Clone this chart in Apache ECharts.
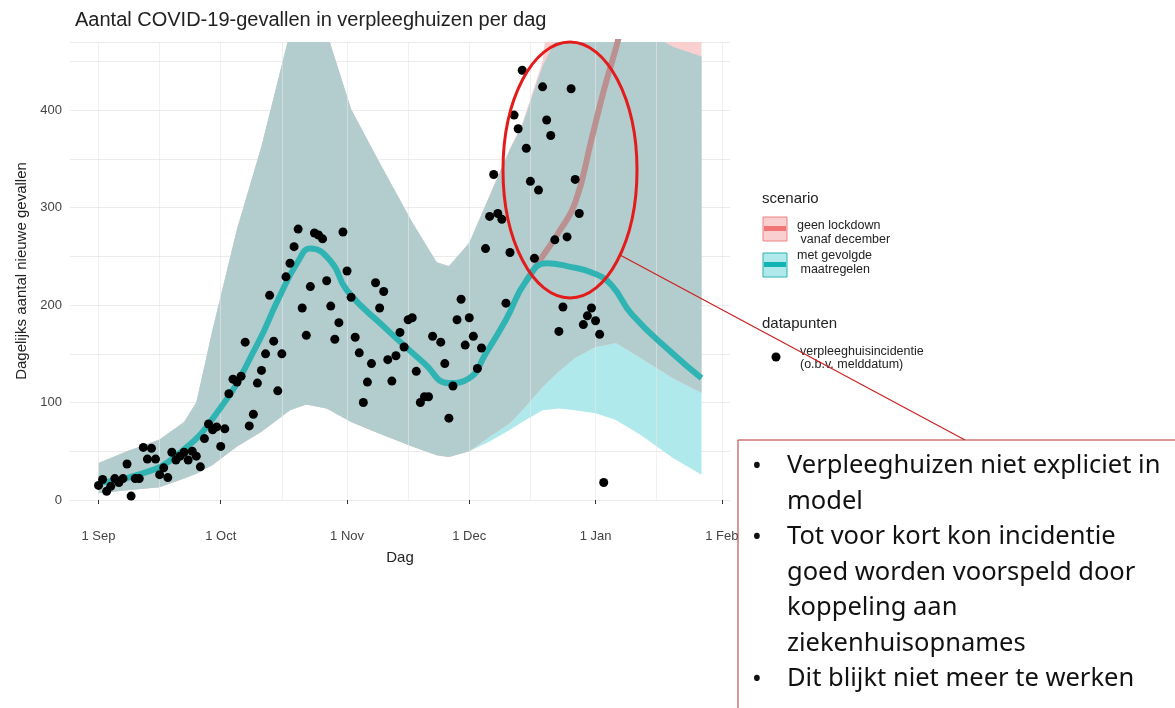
<!DOCTYPE html>
<html><head><meta charset="utf-8">
<script src="https://cdn.jsdelivr.net/npm/echarts@6/dist/echarts.min.js"></script>
<style>html,body{margin:0;padding:0;background:#fff}#c{width:1175px;height:708px}</style>
</head><body><div id="c"></div>
<script>
// daily nursing-home cases (o.b.v. melddatum)
const pointDates = [
  '2020-09-01','2020-09-02','2020-09-03','2020-09-04','2020-09-05','2020-09-06','2020-09-07','2020-09-08','2020-09-09','2020-09-10',
  '2020-09-11','2020-09-12','2020-09-13','2020-09-14','2020-09-15','2020-09-16','2020-09-17','2020-09-18','2020-09-19','2020-09-20',
  '2020-09-21','2020-09-22','2020-09-23','2020-09-24','2020-09-25','2020-09-26','2020-09-27','2020-09-28','2020-09-29','2020-09-30',
  '2020-10-01','2020-10-02','2020-10-03','2020-10-04','2020-10-05','2020-10-06','2020-10-07','2020-10-08','2020-10-09','2020-10-10',
  '2020-10-11','2020-10-12','2020-10-13','2020-10-14','2020-10-15','2020-10-16','2020-10-17','2020-10-18','2020-10-19','2020-10-20',
  '2020-10-21','2020-10-22','2020-10-23','2020-10-24','2020-10-25','2020-10-26','2020-10-27','2020-10-28','2020-10-29','2020-10-30',
  '2020-10-31','2020-11-01','2020-11-02','2020-11-03','2020-11-04','2020-11-05','2020-11-06','2020-11-07','2020-11-08','2020-11-09',
  '2020-11-10','2020-11-11','2020-11-12','2020-11-13','2020-11-14','2020-11-15','2020-11-16','2020-11-17','2020-11-18','2020-11-19',
  '2020-11-20','2020-11-21','2020-11-22','2020-11-24','2020-11-25','2020-11-26','2020-11-27','2020-11-28','2020-11-29','2020-11-30',
  '2020-12-01','2020-12-02','2020-12-03','2020-12-04','2020-12-05','2020-12-06','2020-12-07','2020-12-08','2020-12-09','2020-12-10',
  '2020-12-11','2020-12-12','2020-12-13','2020-12-14','2020-12-15','2020-12-16','2020-12-17','2020-12-18','2020-12-19','2020-12-20',
  '2020-12-21','2020-12-22','2020-12-23','2020-12-24','2020-12-25','2020-12-26','2020-12-27','2020-12-28','2020-12-29','2020-12-30',
  '2020-12-31','2021-01-01','2021-01-02','2021-01-03'
];
const pointValues = [
  15,21,9,14,22,18,22,37,4,22,
  22,54,42,53,42,26,33,23,49,41,
  45,49,41,50,45,34,63,78,72,75,
  55,73,109,124,121,127,162,76,88,120,
  133,150,210,163,112,150,229,243,260,278,
  197,169,219,274,272,268,225,199,165,182,
  275,235,208,167,151,100,121,140,223,197,
  214,144,122,148,172,157,185,187,132,100,
  106,106,168,162,140,84,117,185,206,159,
  187,168,135,156,258,291,334,294,288,202,
  254,395,381,441,361,327,248,318,424,390,
  374,267,173,198,270,422,329,294,180,189,
  197,184,170,18
];

// model ribbons
const bandDates = [
  '2020-09-01','2020-09-08','2020-09-16','2020-09-22','2020-09-25','2020-09-29','2020-10-05','2020-10-11','2020-10-18','2020-10-22',
  '2020-10-27','2020-11-02','2020-11-09','2020-11-17','2020-11-23','2020-11-26','2020-12-01','2020-12-06','2020-12-11','2020-12-14',
  '2020-12-19','2020-12-23','2020-12-27','2021-01-01','2021-01-06','2021-01-12','2021-01-20','2021-01-27'
];
const metLow  = [7,10,13,22,27,36,55,70,92,98, 94,80,68,55,46,44,50,60,72,80, 92,94,92,89,82,67,43,26];
const metHigh = [38,50,62,80,100,175,278,363,480,650, 480,401,346,285,244,240,264,312,360,384, 445,480,500,510,500,485,465,455];
const geenLow  = [7,10,13,22,27,36,55,70,92,98, 94,80,68,55,46,44,50,65,79,92, 116,132,146,157,161,146,125,110];
const geenHigh = [38,50,62,80,100,175,278,363,480,650, 480,401,346,285,244,240,264,313,361,386, 450,600,700,800,800,800,800,800];

// model trend lines
const metLineDates = [
  '2020-09-01','2020-09-10','2020-09-20','2020-10-01','2020-10-10','2020-10-15','2020-10-20','2020-10-23','2020-10-28','2020-11-01',
  '2020-11-10','2020-11-20','2020-11-26','2020-12-01','2020-12-05','2020-12-10','2020-12-15','2020-12-20','2020-12-25','2021-01-01',
  '2021-01-05','2021-01-10','2021-01-20','2021-01-27'
];
const metLineValues = [18,25,45,95,160,205,245,258,245,215, 178,140,120,125,150,185,225,243,240,232, 220,190,150,125];
const geenLineDates = ['2020-12-15','2020-12-19','2020-12-23','2020-12-27','2020-12-31','2021-01-03','2021-01-07','2021-01-10'];
const geenLineValues = [225,250,275,305,370,420,480,540];

const monthTicks = ['2020-09-01','2020-10-01','2020-11-01','2020-12-01','2021-01-01','2021-02-01'];
const midTicks = ['2020-08-17','2020-09-16','2020-10-16','2020-11-16','2020-12-16','2021-01-16'];
const monthNames = ['Jan','Feb','Mar','Apr','May','Jun','Jul','Aug','Sep','Oct','Nov','Dec'];

const ts = d => Date.parse(d + 'T00:00:00Z');
const zip = (a, b) => a.map((d, i) => [ts(d), b[i]]);

function bandSeries(low, high, color, z) {
  const data = bandDates.map((d, i) => [ts(d), low[i], high[i]]);
  return {
    type: 'custom', z: z, clip: true, silent: true,
    data: data,
    renderItem: (params, api) => {
      if (params.dataIndex !== 0) return null;
      const top = data.map(r => api.coord([r[0], r[2]]));
      const bot = data.map(r => api.coord([r[0], r[1]])).reverse();
      return { type: 'polygon', shape: { points: top.concat(bot) }, style: { fill: color } };
    },
    encode: { x: 0, y: [1, 2] }
  };
}
const overlapLow = metLow.map((v, i) => Math.max(v, geenLow[i]));
const overlapHigh = metHigh.map((v, i) => Math.min(v, geenHigh[i]));
const tickVals = monthTicks.map(ts);

const chart = echarts.init(document.getElementById('c'));
chart.setOption({
  animation: false,
  textStyle: { fontFamily: 'Liberation Sans' },
  title: { text: 'Aantal COVID-19-gevallen in verpleeghuizen per dag', left: 70, top: 5,
    textStyle: { fontSize: 20, fontWeight: 'normal', color: '#222', fontFamily: 'Liberation Sans' } },
  grid: { left: 70, right: 445, top: 42, bottom: 208 },
  xAxis: {
    type: 'value', min: ts('2020-08-25'), max: ts('2021-02-03'),
    axisLine: { show: false },
    axisTick: { show: true, customValues: tickVals, lineStyle: { color: '#333' }, length: 4 },
    axisLabel: { customValues: tickVals, margin: 30, color: '#444', fontSize: 13,
      formatter: v => { const d = new Date(v); return d.getUTCDate() + ' ' + monthNames[d.getUTCMonth()]; } },
    splitLine: { show: false },
    name: 'Dag', nameLocation: 'middle', nameGap: 50, nameTextStyle: { fontSize: 15, color: '#222' }
  },
  yAxis: {
    type: 'value', min: 0, max: 470, interval: 50,
    axisLine: { show: false }, axisTick: { show: false },
    axisLabel: { color: '#444', fontSize: 13, formatter: v => v % 100 === 0 ? v : '' },
    splitLine: { lineStyle: { color: '#ebebeb', width: 1 } },
    name: 'Dagelijks aantal nieuwe gevallen', nameLocation: 'middle', nameGap: 40,
    nameTextStyle: { fontSize: 15, color: '#222' }
  },
  series: [
    bandSeries(metLow, metHigh, '#afe9eb', 2),
    bandSeries(geenLow, geenHigh, '#f9cfcf', 3),
    bandSeries(overlapLow, overlapHigh, '#b3cdce', 4),
    { type: 'line', z: 5, data: zip(geenLineDates, geenLineValues), smooth: true, showSymbol: false,
      lineStyle: { color: '#bb9090', width: 6 } },
    { type: 'line', z: 6, data: zip(metLineDates, metLineValues), smooth: true, showSymbol: false,
      lineStyle: { color: '#2fb3b3', width: 6 } },
    { type: 'scatter', z: 7, data: zip(pointDates, pointValues), symbolSize: 9, clip: false,
      itemStyle: { color: '#000', opacity: 1 } },
    { type: 'line', z: 1, data: [], markLine: { silent: true, symbol: 'none', label: { show: false },
      lineStyle: { color: '#e6e6e6', type: 'solid', width: 1, opacity: 0.6 },
      data: tickVals.concat(midTicks.map(ts)).map(v => ({ xAxis: v })) } }
  ],
  graphic: [
    { type: 'text', left: 762, top: 191, style: { text: 'scenario', fontSize: 15, fill: '#222' } },
    { type: 'rect', shape: { x: 763, y: 217, width: 24, height: 24 }, style: { fill: '#f9cfcf', stroke: '#f08080' } },
    { type: 'rect', shape: { x: 764, y: 226, width: 22, height: 5 }, style: { fill: '#f07575' } },
    { type: 'rect', shape: { x: 763, y: 253, width: 24, height: 24 }, style: { fill: '#afe9eb', stroke: '#2fb3b3' } },
    { type: 'rect', shape: { x: 764, y: 262, width: 22, height: 5 }, style: { fill: '#12b3b3' } },
    { type: 'text', left: 797, top: 219, style: { text: 'geen lockdown\n vanaf december', fontSize: 12.5, lineHeight: 14, fill: '#222' } },
    { type: 'text', left: 797, top: 249, style: { text: 'met gevolgde\n maatregelen', fontSize: 12.5, lineHeight: 14, fill: '#222' } },
    { type: 'text', left: 762, top: 316, style: { text: 'datapunten', fontSize: 15, fill: '#222' } },
    { type: 'circle', shape: { cx: 776, cy: 357, r: 4.5 }, style: { fill: '#000' } },
    { type: 'text', left: 800, top: 345, style: { text: 'verpleeghuisincidentie\n(o.b.v. melddatum)', fontSize: 12.5, lineHeight: 13, fill: '#222' } },
    { type: 'ellipse', z: 100, shape: { cx: 570, cy: 170, rx: 67, ry: 128 }, style: { fill: 'none', stroke: '#e31b1b', lineWidth: 3 } },
    { type: 'line', z: 100, shape: { x1: 620, y1: 255, x2: 965, y2: 440 }, style: { stroke: '#cc1f1f', lineWidth: 1.2 } },
    { type: 'rect', z: 101, shape: { x: 738, y: 440, width: 445, height: 280 }, style: { fill: '#fff', stroke: '#b83030', lineWidth: 1 } },
    { type: 'text', z: 102, left: 752, top: 449, style: {
      text: '•\n\n•\n\n\n\n•', fontSize: 26, lineHeight: 35.5, fill: '#111', fontFamily: 'Noto Sans' } },
    { type: 'text', z: 102, left: 787, top: 448, style: {
      text: 'Verpleeghuizen niet expliciet in\nmodel\nTot voor kort kon incidentie\ngoed worden voorspeld door\nkoppeling aan\nziekenhuisopnames\nDit blijkt niet meer te werken',
      fontSize: 25.5, lineHeight: 35.5, fill: '#111', fontFamily: 'Noto Sans' } }
  ]
});
</script></body></html>
